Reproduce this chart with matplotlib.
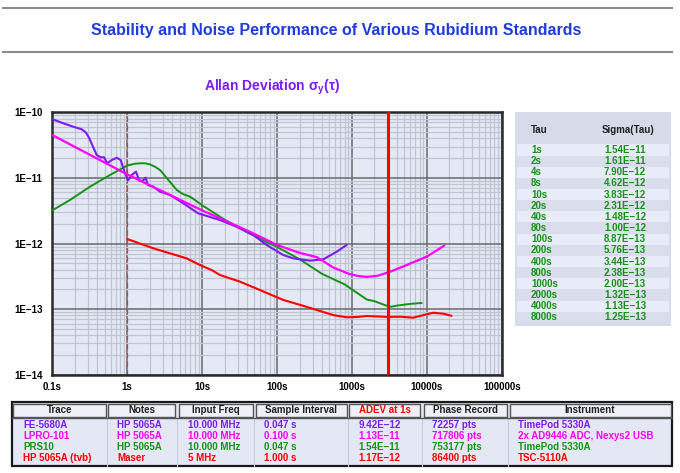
import matplotlib
matplotlib.use("Agg")
import matplotlib.pyplot as plt
from matplotlib.lines import Line2D
from matplotlib.patches import Rectangle
from matplotlib.ticker import FixedLocator, NullFormatter, LogLocator

plt.rcParams['font.family'] = ['Liberation Sans', 'DejaVu Sans']
plt.rcParams['mathtext.fontset'] = 'custom'
plt.rcParams['mathtext.bf'] = 'Liberation Sans:bold'
plt.rcParams['mathtext.rm'] = 'Liberation Sans:bold'

# ---------------- data ----------------
fe_tau = [0.102, 0.14, 0.19, 0.247, 0.282, 0.312, 0.346, 0.392, 0.443, 0.49, 0.542, 0.621, 0.724,
          0.819, 0.935, 1.035, 1.148, 1.31, 1.45, 1.61, 1.77, 1.88, 2.23, 2.74, 3.73, 5.61, 8.9,
          17.3, 29, 48.3, 72.8, 121, 165, 276, 415, 627, 853]
fe_sig = [7.8e-11, 6.8e-11, 6.04e-11, 5.51e-11, 4.89e-11, 4.02e-11, 3.06e-11, 2.23e-11, 2.06e-11,
          2.06e-11, 1.67e-11, 1.87e-11, 2.03e-11, 1.87e-11, 1.175e-11, 9.29e-12, 1.107e-11,
          1.245e-11, 9.06e-12, 9.06e-12, 1.007e-11, 7.8e-12, 7.35e-12, 6.17e-12, 5.49e-12, 4.10e-12,
          2.88e-12, 2.28e-12, 1.80e-12, 1.35e-12, 9.5e-13, 6.68e-13, 5.94e-13, 5.47e-13, 5.74e-13,
          7.5e-13, 9.5e-13]

lp_tau = [0.1, 1, 10, 44, 100, 200, 340, 565, 944, 1250, 1577, 2145, 3230, 5390, 9980, 17140]
lp_sig = [4.5e-11, 1.13e-11, 3.2e-12, 1.5e-12, 9.5e-13, 7.2e-13, 6.2e-13, 4.3e-13, 3.4e-13,
          3.18e-13, 3.1e-13, 3.2e-13, 3.7e-13, 4.7e-13, 6.3e-13, 9.3e-13]

prs_tau = [0.1, 0.172, 0.319, 0.589, 1, 1.25, 1.48, 1.75, 2, 2.35, 2.74, 3.1, 3.54, 4, 4.58, 5.5,
           6.89, 8, 10, 20, 40, 80, 100, 200, 400, 800, 1000, 1580, 2000, 3200, 4000, 6000, 8550]
prs_sig = [3.2e-12, 4.6e-12, 7.35e-12, 1.107e-11, 1.54e-11, 1.64e-11, 1.67e-11, 1.67e-11, 1.61e-11,
           1.48e-11, 1.32e-11, 1.12e-11, 9.3e-12, 7.9e-12, 6.55e-12, 5.7e-12, 5.17e-12, 4.62e-12,
           3.83e-12, 2.31e-12, 1.48e-12, 1.00e-12, 8.87e-13, 5.76e-13, 3.44e-13, 2.38e-13, 2.00e-13,
           1.40e-13, 1.32e-13, 1.08e-13, 1.13e-13, 1.20e-13, 1.24e-13]

hp_tau = [1, 2.23, 6.2, 9.38, 13.4, 17.3, 32, 59.3, 121, 203, 339, 565, 853, 1200, 1578, 2300,
          3000, 4385, 6600, 8980, 12200, 16600, 21400]
hp_sig = [1.17e-12, 8.45e-13, 5.94e-13, 4.7e-13, 3.94e-13, 3.31e-13, 2.62e-13, 1.95e-13, 1.38e-13,
          1.16e-13, 9.7e-14, 8.1e-14, 7.5e-14, 7.6e-14, 7.85e-14, 7.7e-14, 7.6e-14, 7.65e-14,
          7.4e-14, 8.1e-14, 8.8e-14, 8.5e-14, 7.9e-14]

marker_tau = 3000
dashed_tau = 1

x_ticks = [0.1, 1, 10, 100, 1000, 10000, 100000]
x_labels = ['0.1s', '1s', '10s', '100s', '1000s', '10000s', '100000s']
y_ticks = [1e-14, 1e-13, 1e-12, 1e-11, 1e-10]
y_labels = ['1E\u221214', '1E\u221213', '1E\u221212', '1E\u221211', '1E\u221210']

tau_labels = ['1s', '2s', '4s', '8s', '10s', '20s', '40s', '80s', '100s', '200s', '400s',
              '800s', '1000s', '2000s', '4000s', '8000s']
sigma_labels = ['1.54E\u221211', '1.61E\u221211', '7.90E\u221212', '4.62E\u221212', '3.83E\u221212',
                '2.31E\u221212', '1.48E\u221212', '1.00E\u221212', '8.87E\u221213', '5.76E\u221213',
                '3.44E\u221213', '2.38E\u221213', '2.00E\u221213', '1.32E\u221213', '1.13E\u221213',
                '1.25E\u221213']

headers = ['Trace', 'Notes', 'Input Freq', 'Sample Interval', 'ADEV at 1s', 'Phase Record', 'Instrument']
col_trace = ['FE-5680A', 'LPRO-101', 'PRS10', 'HP 5065A (tvb)']
col_notes = ['HP 5065A', 'HP 5065A', 'HP 5065A', 'Maser']
col_freq = ['10.000 MHz', '10.000 MHz', '10.000 MHz', '5 MHz']
col_interval = ['0.047 s', '0.100 s', '0.047 s', '1.000 s']
col_adev = ['9.42E\u221212', '1.13E\u221211', '1.54E\u221211', '1.17E\u221212']
col_record = ['72257 pts', '717806 pts', '753177 pts', '86400 pts']
col_instr = ['TimePod 5330A', '2x AD9446 ADC, Nexys2 USB', 'TimePod 5330A', 'TSC-5110A']

c_purple = '#7B1CF2'
c_magenta = '#FF00FF'
c_green = '#149414'
c_red = '#FF0000'
row_colors = [c_purple, c_magenta, c_green, c_red]

W, H = 680, 473
fig = plt.figure(figsize=(W / 100, H / 100), dpi=100)
fig.patch.set_facecolor('white')

def fx(px):
    return px / W

def fy(py):
    return 1 - py / H

# header lines and titles
for yy in (8, 52):
    fig.add_artist(Line2D([fx(3), fx(672)], [fy(yy), fy(yy)], color='#8c8c8c', lw=1.5))
fig.text(fx(336), fy(31), 'Stability and Noise Performance of Various Rubidium Standards',
         color='#1F3BE0', fontsize=11.5, fontweight='bold', ha='center', va='center')
fig.text(fx(272), fy(87), r'Allan Deviation σ$_\mathbf{y}$(τ)', color='#7B1CF2', fontsize=10,
         fontweight='bold', ha='center', va='center')

# --------------- main axes ----------------
L, R, T, B = 52.3, 501.7, 112.3, 374.7
ax = fig.add_axes([fx(L), fy(B), fx(R - L), (B - T) / H])
ax.set_facecolor('#E5E8F5')
ax.set_xscale('log')
ax.set_yscale('log')
ax.set_xlim(0.1, 1e5)
ax.set_ylim(1e-14, 1e-10)

ax.xaxis.set_major_locator(FixedLocator(x_ticks))
ax.yaxis.set_major_locator(FixedLocator(y_ticks))
ax.xaxis.set_minor_locator(LogLocator(base=10, subs=range(2, 10), numticks=20))
ax.yaxis.set_minor_locator(LogLocator(base=10, subs=range(2, 10), numticks=20))
ax.xaxis.set_minor_formatter(NullFormatter())
ax.yaxis.set_minor_formatter(NullFormatter())
ax.set_xticklabels(x_labels)
ax.set_yticklabels(y_labels)
ax.tick_params(which='both', length=0)
ax.tick_params(axis='x', pad=5, labelsize=7)
ax.tick_params(axis='y', pad=7, labelsize=7)
for lab in ax.get_xticklabels() + ax.get_yticklabels():
    lab.set_fontweight('bold')
ax.grid(which='minor', color='#C0C5D4', lw=0.9)
ax.grid(which='major', color='#6a6a6a', lw=1.1)
ax.set_axisbelow(True)
for s in ax.spines.values():
    s.set_color('#2a2a2a')
    s.set_linewidth(1.8)

kw = dict(solid_joinstyle='round', solid_capstyle='round')
ax.plot(prs_tau, prs_sig, color=c_green, lw=1.4, zorder=3, **kw)
ax.plot(fe_tau, fe_sig, color=c_purple, lw=1.5, zorder=4, **kw)
ax.plot(lp_tau, lp_sig, color=c_magenta, lw=1.6, zorder=5, **kw)
ax.plot(hp_tau, hp_sig, color=c_red, lw=1.5, zorder=3, **kw)
ax.axvline(dashed_tau, color='#E83030', lw=0.9, ls=(0, (4, 3)), zorder=2)
ax.axvline(marker_tau, color=c_red, lw=2.2, zorder=6)

# --------------- right table ----------------
tx0, tx1, ty0, ty1 = 515, 671, 112.3, 325.7
fig.add_artist(Rectangle((fx(tx0), fy(ty1)), fx(tx1 - tx0), (ty1 - ty0) / H,
                         facecolor='#D7DAE8', edgecolor='none'))
row_h = 11.15
first_row = 150
for i, (t, s) in enumerate(zip(tau_labels, sigma_labels)):
    yc = first_row + i * row_h
    fc = '#E8EBF8' if i % 2 == 0 else '#DADDEB'
    fig.add_artist(Rectangle((fx(tx0 + 2), fy(yc + row_h / 2)), fx(tx1 - tx0 - 4), row_h / H,
                             facecolor=fc, edgecolor='none'))
    fig.text(fx(531), fy(yc), t, color=c_green, fontsize=7, fontweight='bold', ha='left', va='center')
    fig.text(fx(604), fy(yc), s, color=c_green, fontsize=7, fontweight='bold', ha='left', va='center')
fig.text(fx(531), fy(130), 'Tau', color='#202020', fontsize=7, fontweight='bold', ha='left', va='center')
fig.text(fx(602), fy(130), 'Sigma(Tau)', color='#202020', fontsize=7, fontweight='bold', ha='left',
         va='center')

# --------------- bottom table ----------------
col_edges = [11.7, 107, 177, 254, 348, 422, 508, 672]
text_x = [23.3, 117.3, 187.7, 264.3, 358.3, 431.7, 518.3]
columns = [col_trace, col_notes, col_freq, col_interval, col_adev, col_record, col_instr]
top, hdr_bot, bot = 402, 416.5, 466
fig.add_artist(Rectangle((fx(col_edges[0]), fy(bot)), fx(col_edges[-1] - col_edges[0]), (bot - top) / H,
                         facecolor='#E4E7F4', edgecolor='#1a1a1a', lw=1.6))
for j in range(len(headers)):
    x0, x1 = col_edges[j], col_edges[j + 1]
    fig.add_artist(Rectangle((fx(x0 + 1.5), fy(hdr_bot)), fx(x1 - x0 - 3), (hdr_bot - top - 1.5) / H,
                             facecolor='#EEF0F8', edgecolor='#555555', lw=1.0))
    fig.text(fx((x0 + x1) / 2), fy(409.5), headers[j], color=(c_red if j == 4 else '#202020'),
             fontsize=7, fontweight='bold', ha='center', va='center')
    if 0 < j:
        fig.add_artist(Line2D([fx(x0), fx(x0)], [fy(hdr_bot), fy(bot)], color='#C8CBD8', lw=0.8))
fig.add_artist(Line2D([fx(col_edges[0]), fx(col_edges[-1])], [fy(hdr_bot + 1), fy(hdr_bot + 1)],
                      color='#555555', lw=1.0))
row_y = [425, 436.2, 447.3, 458.4]
for j, col in enumerate(columns):
    for i, val in enumerate(col):
        fig.text(fx(text_x[j]), fy(row_y[i]), val, color=row_colors[i], fontsize=7, fontweight='bold',
                 ha='left', va='center')

fig.savefig('out.png', dpi=100)
